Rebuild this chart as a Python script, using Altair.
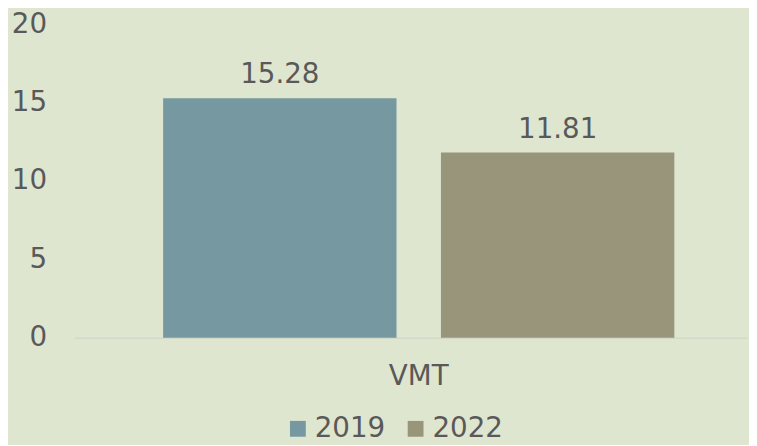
import altair as alt
import pandas as pd

metric = ["VMT", "VMT"]
series = ["2019", "2022"]
values = [15.28, 11.81]
colors = ["#7598a1", "#98957b"]

df = pd.DataFrame({"metric": metric, "series": series, "value": values})
df["label"] = df["value"].map(lambda v: f"{v:.2f}")

FONT = "DejaVu Sans"
TXT = "#595959"
FS = 28

base = alt.Chart(df).encode(
    x=alt.X("metric:N", title=None,
            scale=alt.Scale(paddingOuter=0.158, paddingInner=0, align=0.55),
            axis=alt.Axis(labelAngle=0, ticks=False, domain=True, domainColor="#d4d8c8",
                          domainWidth=1.5, labelFontSize=FS, labelColor=TXT, labelFont=FONT,
                          labelPadding=25)),
    xOffset=alt.XOffset("series:N", scale=alt.Scale(paddingInner=0.16, paddingOuter=0)),
)

bars = base.mark_bar().encode(
    y=alt.Y("value:Q", title=None,
            scale=alt.Scale(domain=[0, 20]),
            axis=alt.Axis(values=[0, 5, 10, 15, 20], grid=False, domain=False, ticks=False,
                          labelFontSize=FS, labelColor=TXT, labelFont=FONT, labelPadding=28)),
    color=alt.Color("series:N", scale=alt.Scale(domain=series, range=colors),
                    legend=alt.Legend(title=None, orient="none", direction="horizontal",
                                      legendX=212, legendY=395, symbolType="square",
                                      symbolSize=256, symbolStrokeWidth=0, symbolOpacity=1,
                                      labelFontSize=FS, labelColor=TXT, labelFont=FONT,
                                      labelOffset=3, columnPadding=16)),
)

text = base.mark_text(baseline="alphabetic", dy=-15, fontSize=FS, color=TXT, font=FONT).encode(
    y=alt.Y("value:Q"),
    text="label:N",
)

chart = (bars + text).properties(
    width=680, height=317,
    autosize=alt.AutoSizeParams(type="none"),
    padding={"left": 67, "top": 14, "right": 2, "bottom": 106},
    background="#dfe6d0",
).configure_view(stroke=None)

chart.save("out.html", embed_options={"renderer": "svg", "actions": False})
